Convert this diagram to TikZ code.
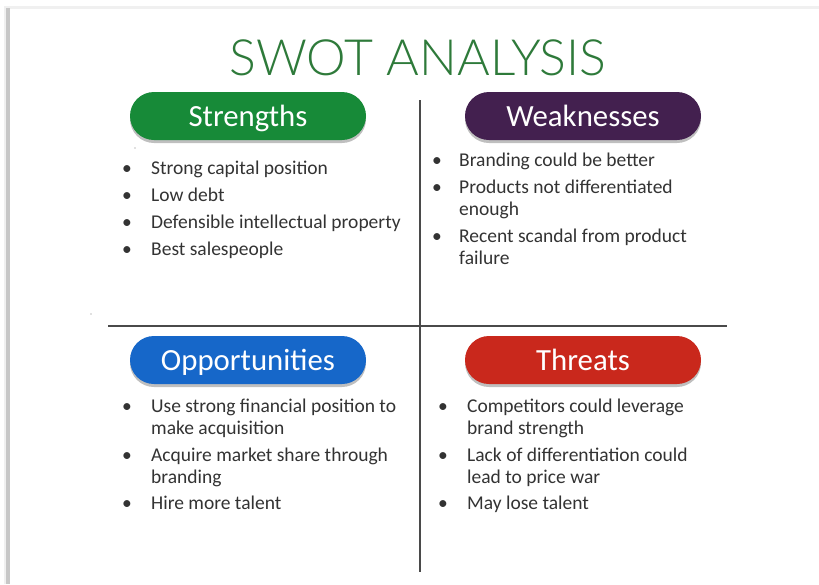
\documentclass[tikz,border=0pt]{standalone}
\usepackage{fontspec}
\setmainfont{Carlito}
\newfontfamily\titlefont{Lato Light}
\usetikzlibrary{shadows,calc}
\definecolor{titlegreen}{HTML}{2E7A3A}
\definecolor{sgreen}{HTML}{178A38}
\definecolor{wpurple}{HTML}{43204F}
\definecolor{oblue}{HTML}{1667C9}
\definecolor{tred}{HTML}{C9281C}
\definecolor{bodytext}{HTML}{333333}
\definecolor{rule}{HTML}{4A4A4A}
\begin{document}
\begin{tikzpicture}[x=1pt,y=-1pt,
  pill/.style={rectangle, rounded corners=24pt, minimum width=236pt, minimum height=48pt,
    inner sep=0pt, text=white, font=\fontsize{30.8}{32}\selectfont,
    text height=20pt, text depth=0pt,
    drop shadow={shadow xshift=0pt, shadow yshift=-3pt, opacity=0.25, fill=black}},
  itm/.style={anchor=base west, align=left, inner sep=0pt, text=bodytext,
    font=\fontsize{19.5}{22}\selectfont},
  bul/.style={anchor=base, inner sep=0pt, text=bodytext, font=\fontsize{19.5}{22}\selectfont},
  divider/.style={draw=rule, line width=1.4pt}]
\useasboundingbox (0,0) rectangle (819,584);
% page frame with shadow
\fill[white] (0,0) rectangle (819,584);
\fill[black!6] (4,6) rectangle (819,584);
\fill[black!22] (6,8) rectangle (10,584);
\fill[white] (10,9) rectangle (819,584);
% title
\node[anchor=base, inner sep=0pt, text=titlegreen, font=\titlefont\fontsize{50}{52}\selectfont] (title) at (418,75) {SWOT ANALYSIS};
% dividers
\coordinate (vtop) at (420,100);
\coordinate (vbot) at (420,572);
\coordinate (hl) at (108,326);
\coordinate (hr) at (727,326);
\draw[divider] (vtop) -- (vbot);
\draw[divider] (hl) -- (hr);
% stray dots
\fill[black!50] (135,148) circle (0.7pt);
\fill[black!50] (91,314) circle (0.7pt);
% headers
\node[pill, fill=sgreen] (S) at (248,116) {Strengths};
\node[pill, fill=wpurple] (W) at (583,116) {Weaknesses};
\node[pill, fill=oblue] (O) at (248,360) {Opportunities};
\node[pill, fill=tred] (T) at (583,360) {Threats};
% Strengths
\node[bul] (s1b) at (127,174) {•}; \node[itm] (s1) at (151,174) {Strong capital position};
\node[bul] (s2b) at (127,201) {•}; \node[itm] (s2) at (151,201) {Low debt};
\node[bul] (s3b) at (127,228) {•}; \node[itm] (s3) at (151,228) {Defensible intellectual property};
\node[bul] (s4b) at (127,255) {•}; \node[itm] (s4) at (151,255) {Best salespeople};
% Weaknesses (multi-line nodes are placed by the baseline of their last line)
\node[bul] (w1b) at (437,166) {•}; \node[itm] (w1) at (459,166) {Branding could be better};
\node[bul] (w2b) at (437,193) {•}; \node[itm] (w2) at (459,215) {Products not differentiated\\enough};
\node[bul] (w3b) at (437,242) {•}; \node[itm] (w3) at (459,264) {Recent scandal from product\\failure};
% Opportunities
\node[bul] (o1b) at (127,412) {•}; \node[itm] (o1) at (151,434) {Use strong financial position to\\make acquisition};
\node[bul] (o2b) at (127,461) {•}; \node[itm] (o2) at (151,483) {Acquire market share through\\branding};
\node[bul] (o3b) at (127,509) {•}; \node[itm] (o3) at (151,509) {Hire more talent};
% Threats
\node[bul] (t1b) at (443,412) {•}; \node[itm] (t1) at (467,434) {Competitors could leverage\\brand strength};
\node[bul] (t2b) at (443,461) {•}; \node[itm] (t2) at (467,483) {Lack of differentiation could\\lead to price war};
\node[bul] (t3b) at (443,509) {•}; \node[itm] (t3) at (467,509) {May lose talent};
\end{tikzpicture}
\end{document}
